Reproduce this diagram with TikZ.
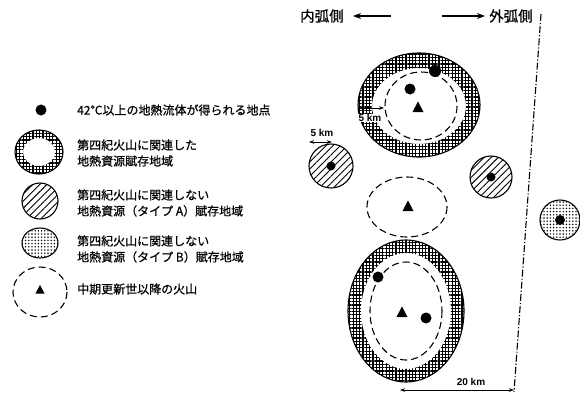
\documentclass[tikz,border=0pt]{standalone}
\usepackage{fontspec}
\setmainfont{Liberation Sans}
\newfontfamily\jp{Noto Sans CJK JP}[FakeBold=0.6]
\usetikzlibrary{patterns.meta,arrows.meta}
\begin{document}
\begin{tikzpicture}[x=1pt,y=-1pt,
  ringfill/.style={pattern={Hatch[angle=0,distance=3.3pt,line width=1.2pt]},even odd rule},
  hatchfill/.style={pattern={Lines[angle=45,distance=5pt,line width=0.9pt]}},
  dotfill/.style={pattern={Dots[distance=3.2pt,radius=0.8pt]}},
  edge/.style={line width=1.1pt},
  volc/.style={dash pattern=on 7pt off 4pt,line width=1.1pt},
  jptext/.style={font=\jp\fontsize{12}{16}\selectfont,anchor=west,align=left,inner sep=0pt},
  sidetext/.style={font=\jp\fontsize{14.5}{16}\selectfont,anchor=west,inner sep=0pt},
  kmtext/.style={font=\bfseries\fontsize{10}{11}\selectfont,inner sep=0.5pt},
  dimarrow/.style={{Stealth[length=5pt,width=3.5pt]}-{Stealth[length=5pt,width=3.5pt]},line width=0.9pt},
  sidearrow/.style={line width=1.4pt,-{Stealth[length=8pt,width=6pt]}},
  tri/.pic={\fill (-5.5,4) -- (5.5,4) -- (0,-6.5) -- cycle;},
  tris/.pic={\fill (-4.5,3.5) -- (4.5,3.5) -- (0,-5) -- cycle;}]
\useasboundingbox (0,0) rectangle (580,394);

% ---------------- legend ----------------
\fill (41,110) circle [radius=5.5];
\node[jptext] (l1) at (77,110) {42℃以上の地熱流体が得られる地点};

\path[ringfill] (39,152) ellipse [x radius=24,y radius=22] (39,152) ellipse [x radius=16,y radius=14];
\draw[edge] (39,152) ellipse [x radius=24,y radius=22];
\node[jptext] (l2) at (77,153) {第四紀火山に関連した\\地熱資源賦存地域};

\path[hatchfill] (40,201) circle [radius=18];
\draw[edge] (40,201) circle [radius=18];
\node[jptext] (l3) at (77,203) {第四紀火山に関連しない\\地熱資源（タイプ A）賦存地域};

\path[dotfill] (40,243) ellipse [x radius=18,y radius=15];
\draw[edge] (40,243) ellipse [x radius=18,y radius=15];
\node[jptext] (l4) at (77,249) {第四紀火山に関連しない\\地熱資源（タイプ B）賦存地域};

\draw[volc] (40,292) ellipse [x radius=27,y radius=25];
\pic at (40,290) {tris};
\node[jptext] (l5) at (77,289) {中期更新世以降の火山};

% ---------------- header ----------------
\node[sidetext] (inner) at (300,16) {内弧側};
\node[sidetext] (outer) at (489,16) {外弧側};
\coordinate (la1) at (391,16);
\coordinate (la2) at (353,16);
\coordinate (ra1) at (442,16);
\coordinate (ra2) at (485,16);
\draw[sidearrow] (la1) -- (la2);
\draw[sidearrow] (ra1) -- (ra2);

% boundary line
\coordinate (b1) at (541,14);
\coordinate (b2) at (514,392);
\draw[line width=1.1pt,dash pattern=on 7pt off 2pt on 1.2pt off 2pt] (b1) -- (b2);

% ---------------- top volcano ----------------
\path[ringfill] (419,105) ellipse [x radius=61,y radius=52] (419,106) ellipse [x radius=47,y radius=38];
\draw[edge] (419,105) ellipse [x radius=61,y radius=52];
\draw[volc] (421,106) ellipse [x radius=36,y radius=34];
\fill (435,71) circle [radius=6];
\fill (410,89) circle [radius=5.5];
\pic at (418,108) {tri};
\coordinate (k1a) at (359,108);
\coordinate (k1b) at (384,108);
\draw[dimarrow] (k1a) -- (k1b);
\node[kmtext,fill=white] (k1) at (370,118) {5 km};

% ---------------- left hatched ----------------
\path[hatchfill] (331,166) circle [radius=22];
\draw[edge] (331,166) circle [radius=22];
\fill (331,166) circle [radius=4.5];
\node[kmtext] (k2) at (322,133) {5 km};
\coordinate (k2a) at (309,142);
\coordinate (k2b) at (332,142);
\draw[dimarrow] (k2a) -- (k2b);

% ---------------- right hatched ----------------
\path[hatchfill] (491,177) circle [radius=21];
\draw[edge] (491,177) circle [radius=21];
\fill (491,177) circle [radius=4.5];

% ---------------- dotted ----------------
\path[dotfill] (560,220) circle [radius=20];
\draw[edge] (560,220) circle [radius=20];
\fill (560,220) circle [radius=5];

% ---------------- middle volcano ----------------
\draw[volc] (407,207) ellipse [x radius=40,y radius=30];
\pic at (408,207) {tri};

% ---------------- bottom volcano ----------------
\path[ringfill] (406,311) ellipse [x radius=58,y radius=71] (406,311) ellipse [x radius=45,y radius=58];
\draw[edge] (406,311) ellipse [x radius=58,y radius=71];
\draw[volc] (406,311) ellipse [x radius=36,y radius=49];
\fill (378,277) circle [radius=5.5];
\fill (426,318) circle [radius=5.5];
\pic at (402,313) {tri};

% ---------------- 20 km ----------------
\coordinate (d1) at (400,390);
\coordinate (d2) at (514,390);
\draw[dimarrow] (d1) -- (d2);
\node[kmtext] (k3) at (471,382) {20 km};
\end{tikzpicture}
\end{document}
